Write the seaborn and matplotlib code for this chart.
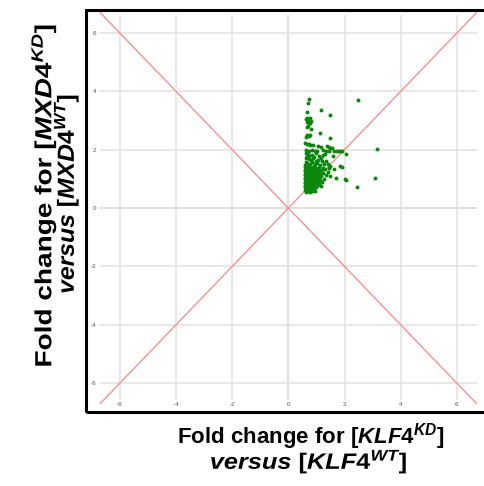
import matplotlib
matplotlib.use("Agg")
import matplotlib.pyplot as plt
import seaborn as sns
import pandas as pd
from matplotlib.patches import Rectangle
from matplotlib.patheffects import AbstractPathEffect
from matplotlib.transforms import Affine2D

# ---- data ----
klf4_fc = [
    # sparse upper / outliers
    2.47, 0.74, 0.70, 1.15, 1.47, 0.68,
    0.63, 0.68, 0.72, 0.78, 0.80, 0.66, 0.73, 0.76,
    0.65, 0.70, 0.80, 1.12, 0.72, 0.67, 0.62, 0.78, 1.47,
    0.60, 0.67, 0.72, 0.78, 0.86, 1.06, 1.15, 1.38, 1.47, 1.55,
    0.62, 0.72, 0.83, 0.95, 1.03, 1.25, 1.33, 1.45, 1.62, 1.75, 1.88,
    3.16, 3.10, 2.45, 2.07, 1.81, 1.92, 1.59, 1.43, 1.25, 1.30,
    1.83, 1.90, 1.62, 1.44, 1.69, 2.00, 2.05,
    # mid band
    0.62, 0.70, 0.66, 0.75, 0.85, 0.92, 1.00, 1.10, 1.18, 0.64,
    0.72, 0.80, 0.88, 0.98, 1.05, 1.20, 1.35, 0.62, 0.68, 0.76,
    0.84, 0.94, 1.02, 1.12, 1.28, 1.40, 0.60, 0.70, 0.90, 1.50,
    # dense cluster
    0.60, 0.66, 0.73, 0.81, 0.88, 1.00, 1.08, 1.22,
    0.58, 0.64, 0.70, 0.77, 0.85, 0.93, 1.03, 1.15, 1.30,
    0.61, 0.67, 0.74, 0.80, 0.90, 0.97, 1.10, 1.40,
    0.59, 0.63, 0.69, 0.76, 0.83, 0.92, 1.01, 1.12, 1.25,
    0.60, 0.66, 0.72, 0.79, 0.86, 0.95, 1.05, 1.18, 1.35, 1.48,
    0.58, 0.62, 0.68, 0.74, 0.81, 0.88, 0.99, 1.09,
    0.59, 0.64, 0.70, 0.77, 0.84, 0.91, 1.02, 1.14, 1.27,
    0.60, 0.66, 0.71, 0.78, 0.85, 0.94, 1.06, 1.20,
    0.58, 0.63, 0.69, 0.75, 0.82, 0.89, 0.97, 1.10,
    0.60, 0.65, 0.71, 0.78, 0.86, 0.93, 1.04, 1.16,
    0.59, 0.64, 0.70, 0.76, 0.83, 0.91, 1.00,
    0.61, 0.67, 0.73, 0.80, 0.88, 0.96,
    0.62, 0.69, 0.77, 0.85,
    0.63, 0.67, 0.72, 0.65, 0.70, 0.62, 0.75, 0.68, 0.80, 0.66,
]
mxd4_fc = [
    3.72, 3.73, 3.59, 3.36, 3.20, 3.31,
    3.05, 3.10, 3.02, 3.08, 2.98, 2.95, 2.93, 2.90,
    2.79, 2.80, 2.72, 2.56, 2.47, 2.50, 2.44, 2.52, 2.39,
    2.22, 2.18, 2.20, 2.16, 2.17, 2.14, 2.10, 2.12, 2.07, 2.05,
    1.98, 1.96, 1.99, 1.95, 1.97, 1.99, 1.94, 1.97, 1.95, 1.97, 1.96,
    2.02, 1.03, 0.73, 1.84, 1.96, 1.94, 1.80, 2.09, 1.83, 1.84,
    1.45, 1.42, 1.34, 1.37, 1.02, 1.00, 0.97,
    1.90, 1.85, 1.80, 1.78, 1.82, 1.75, 1.88, 1.80, 1.72, 1.70,
    1.68, 1.65, 1.70, 1.62, 1.66, 1.60, 1.62, 1.58, 1.55, 1.52,
    1.57, 1.50, 1.55, 1.48, 1.50, 1.52, 1.48, 1.46, 1.45, 1.45,
    1.41, 1.38, 1.43, 1.39, 1.42, 1.37, 1.41, 1.38,
    1.32, 1.35, 1.31, 1.34, 1.30, 1.33, 1.35, 1.31, 1.34,
    1.27, 1.24, 1.28, 1.25, 1.26, 1.23, 1.27, 1.25,
    1.18, 1.21, 1.17, 1.20, 1.19, 1.16, 1.21, 1.18, 1.20,
    1.13, 1.10, 1.14, 1.11, 1.12, 1.09, 1.13, 1.11, 1.12, 1.10,
    1.04, 1.07, 1.03, 1.06, 1.05, 1.02, 1.06, 1.04,
    0.99, 0.96, 1.00, 0.97, 0.98, 0.95, 0.99, 0.97, 0.98,
    0.90, 0.93, 0.89, 0.92, 0.91, 0.88, 0.92, 0.90,
    0.85, 0.82, 0.86, 0.83, 0.84, 0.81, 0.85, 0.83,
    0.76, 0.79, 0.75, 0.78, 0.77, 0.74, 0.78, 0.76,
    0.71, 0.68, 0.72, 0.69, 0.70, 0.67, 0.71,
    0.62, 0.65, 0.61, 0.64, 0.63, 0.60,
    0.56, 0.58, 0.55, 0.57,
    0.74, 0.88, 1.09, 1.15, 0.80, 0.94, 1.01, 1.22, 0.72, 0.60,
]
tick_values = [-6, -4, -2, 0, 2, 4, 6]
tick_labels = ["-6", "-4", "-2", "0", "2", "4", "6"]
diag_x = [-6.7, 6.7]
diag_up = [-6.7, 6.7]
diag_down = [6.7, -6.7]

df = pd.DataFrame({"klf4": klf4_fc, "mxd4": mxd4_fc})

# ---- style ----
sns.set_theme(style="whitegrid")
plt.rcParams["font.family"] = ["Liberation Sans", "DejaVu Sans"]
plt.rcParams["axes.unicode_minus"] = False
plt.rcParams["mathtext.fontset"] = "custom"
plt.rcParams["mathtext.rm"] = "Liberation Sans:bold"
plt.rcParams["mathtext.bf"] = "Liberation Sans:bold"
plt.rcParams["mathtext.it"] = "Liberation Sans:italic:bold"


class Stretch(AbstractPathEffect):
    """Stretch rendered glyphs about a display point (text stays real text)."""

    def __init__(self, sx, sy, cx, cy):
        super().__init__()
        self.sx, self.sy, self.cx, self.cy = sx, sy, cx, cy

    def draw_path(self, renderer, gc, tpath, affine, rgbFace=None):
        t = affine + Affine2D().translate(-self.cx, -self.cy) \
            .scale(self.sx, self.sy).translate(self.cx, self.cy)
        renderer.draw_path(gc, tpath, t, rgbFace)


W, H = 485, 486
fig = plt.figure(figsize=(W / 100, H / 100), dpi=100)
ax = fig.add_axes([100 / W, 1 - 400 / H, 377 / W, 385 / H])

ax.set_xlim(-6.71, 6.72)
ax.set_ylim(-6.58, 6.62)
ax.grid(True, color="#e2e2e2", linewidth=1.1)
for s in ax.spines.values():
    s.set_visible(False)
ax.set_facecolor("white")
ax.axvline(0, color="#d0d0d0", lw=1.1, zorder=0.5)
ax.axhline(0, color="#d0d0d0", lw=1.1, zorder=0.5)

ax.plot(diag_x, diag_up, color="#f59393", lw=1.0, clip_on=False, zorder=2)
ax.plot(diag_x, diag_down, color="#f59393", lw=1.0, clip_on=False, zorder=2)

sns.scatterplot(data=df, x="klf4", y="mxd4", ax=ax, color="#0b880b",
                s=8, linewidth=0, zorder=3)

ax.set_xticks(tick_values)
ax.set_xticklabels(tick_labels)
ax.set_yticks(tick_values)
ax.set_yticklabels(tick_labels)
ax.tick_params(axis="both", length=0, labelsize=4.5, labelcolor="#555555")
ax.tick_params(axis="x", pad=1.5)
ax.tick_params(axis="y", pad=2.5)
ax.set_xlabel("")
ax.set_ylabel("")

# outer frame
fig.patches.append(Rectangle((86 / W, 1 - 412 / H), 420 / W, 402 / H,
                             transform=fig.transFigure, fill=False,
                             edgecolor="black", linewidth=2.2))

lab_kw = dict(color="black", fontweight="bold", rotation_mode="anchor",
              ha="center", va="baseline")
x1 = (311, 443)
x2 = (309, 469)
fig.text(x1[0] / W, 1 - x1[1] / H,
         "Fold change for [$\\mathit{KLF4}^{\\mathit{KD}}$]",
         fontsize=16, **lab_kw)
fig.text(x2[0] / W, 1 - x2[1] / H,
         "$\\mathit{versus}$ [$\\mathit{KLF4}^{\\mathit{WT}}$]",
         fontsize=16,
         path_effects=[Stretch(1.14, 1.0, x2[0], H - x2[1])], **lab_kw)

y1 = (51.5, 195)
y2 = (74, 193.5)
fig.text(y1[0] / W, 1 - y1[1] / H,
         "Fold change for [$\\mathit{MXD4}^{\\mathit{KD}}$]",
         rotation=90, fontsize=16.8,
         path_effects=[Stretch(1.0, 1.2, y1[0], H - y1[1])], **lab_kw)
fig.text(y2[0] / W, 1 - y2[1] / H,
         "$\\mathit{versus}$ [$\\mathit{MXD4}^{\\mathit{WT}}$]",
         rotation=90, fontsize=16.8,
         path_effects=[Stretch(1.0, 1.06, y2[0], H - y2[1])], **lab_kw)

fig.savefig("out.png", dpi=100)
